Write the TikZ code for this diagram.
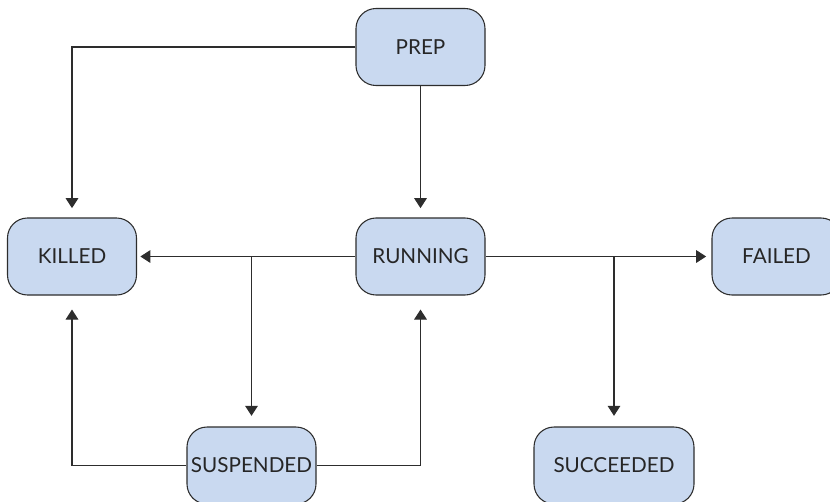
\documentclass[tikz,border=0pt]{standalone}
\usepackage{fontspec}
\setmainfont{Lato}
\usetikzlibrary{arrows.meta}
\definecolor{statefill}{RGB}{201,217,240}
\definecolor{stateline}{RGB}{45,45,45}

\tikzset{
  State/.style={draw=stateline, line width=0.8pt, fill=statefill,
    rounded corners=15pt, minimum width=96.75pt, minimum height=57.75pt,
    inner sep=1pt, text=black!85, font=\fontsize{15.5}{17}\selectfont},
  Link/.style={draw=stateline, line width=0.8pt,
    -{Triangle[width=9.5pt,length=7.5pt]}}
}

\begin{document}
\begin{tikzpicture}[x=0.75pt,y=-0.75pt]

        \useasboundingbox (0,0) rectangle (830,501);

        \node[State] (prep)      at (420.5,47)    {PREP};
        \node[State] (killed)    at (72,256.5)    {KILLED};
        \node[State] (running)   at (420.5,256.5) {RUNNING};
        \node[State] (failed)    at (776.5,256.5) {FAILED};
        \node[State] (suspended) at (251.5,465.5) {SUSPENDED};
        \node[State, minimum width=120pt] (succeeded) at (614,465.5) {SUCCEEDED};

        \coordinate (toSusp) at (suspended.north |- running.west);
        \coordinate (toSucc) at (succeeded.north |- running.east);

        \draw[Link, shorten >=7pt] (prep.west) -| (killed.north);
        \draw[Link, shorten >=7pt] (prep.south) -- (running.north);
        \draw[Link, shorten >=2.5pt] (running.west) -- (killed.east);
        \draw[Link, shorten >=8pt] (toSusp) -- (suspended.north);
        \draw[Link, shorten >=4pt] (running.east) -- (failed.west);
        \draw[Link, shorten >=8pt] (toSucc) -- (succeeded.north);
        \draw[Link, shorten >=10.5pt] (suspended.west) -| (killed.south);
        \draw[Link, shorten >=10.5pt] (suspended.east) -| (running.south);
    \end{tikzpicture}
\end{document}
